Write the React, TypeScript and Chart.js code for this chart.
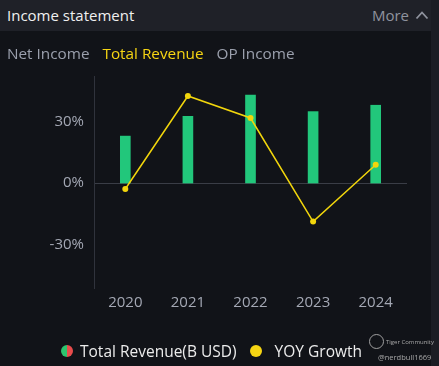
import React, { useEffect, useRef } from "react";
import { Chart, registerables } from "chart.js";

Chart.register(...registerables);

const years = ["2020", "2021", "2022", "2023", "2024"];
const revenue = [11.4, 16.2, 21.35, 17.35, 18.9];
const yoyGrowth = [-2.9, 42.3, 31.6, -18.7, 8.9];
const yTicks = [-30, 0, 30];
const tabs = ["Net Income", "Total Revenue", "OP Income"];

const FONT = "'Open Sans', 'Noto Sans', sans-serif";

export default function App() {
  const ref = useRef<HTMLCanvasElement | null>(null);

  useEffect(() => {
    document.body.style.margin = "0";
    document.body.style.background = "#111318";
    const ctx = ref.current!;
    const chart = new Chart(ctx, {
      data: {
        labels: years,
        datasets: [
          {
            type: "line",
            label: "YOY Growth",
            data: yoyGrowth,
            yAxisID: "y",
            borderColor: "#f2d60c",
            backgroundColor: "#f2d60c",
            borderWidth: 1.5,
            pointRadius: 3,
            pointBorderWidth: 0,
            tension: 0,
            order: 0,
          },
          {
            type: "bar",
            label: "Total Revenue(B USD)",
            data: revenue,
            yAxisID: "y1",
            backgroundColor: "#22c77b",
            barThickness: 10,
            order: 1,
          },
        ],
      } as any,
      options: {
        animation: false,
        responsive: false,
        maintainAspectRatio: false,
        layout: { padding: { left: 0, right: 32, top: 76, bottom: 48 } },
        plugins: { legend: { display: false }, tooltip: { enabled: false } },
        scales: {
          x: {
            grid: { display: false, drawTicks: false },
            border: { display: false },
            ticks: {
              color: "#a4a8b4",
              font: { family: FONT, size: 15 },
              padding: 6,
            },
            afterFit: (s: any) => {
              s.height = 30;
            },
          },
          y: {
            min: -51,
            max: 52,
            afterBuildTicks: (s: any) => {
              s.ticks = yTicks.map((v) => ({ value: v }));
            },
            afterFit: (s: any) => {
              s.width = 94;
            },
            grid: {
              drawTicks: false,
              color: (c: any) => (c.tick && c.tick.value === 0 ? "#3a3d46" : "rgba(0,0,0,0)"),
              lineWidth: 1,
            },
            border: { display: true, color: "#30333c", width: 1 },
            ticks: {
              color: "#a4a8b4",
              font: { family: FONT, size: 15 },
              padding: 10,
              callback: (v: any) => `${v}%`,
            },
          },
          y1: {
            display: false,
            min: -25.5,
            max: 26,
          },
        },
      } as any,
    });
    return () => chart.destroy();
  }, []);

  return (
    <div
      style={{
        position: "relative",
        width: 439,
        height: 366,
        background: "#111318",
        overflow: "hidden",
        fontFamily: FONT,
      }}
    >
      <canvas
        ref={ref}
        width={439}
        height={366}
        style={{ position: "absolute", left: 0, top: 0, width: 439, height: 366 }}
      />
      <div
        style={{
          position: "absolute",
          left: 0,
          top: 0,
          width: 439,
          height: 31,
          background: "#1f2128",
        }}
      />
      <div
        style={{
          position: "absolute",
          left: 7,
          top: 4,
          fontSize: 15,
          color: "#f0f0f0",
          lineHeight: "22px",
        }}
      >
        Income statement
      </div>
      <div
        style={{
          position: "absolute",
          right: 10,
          top: 4,
          fontSize: 15,
          color: "#8f939e",
          lineHeight: "22px",
          display: "flex",
          alignItems: "center",
          gap: 6,
        }}
      >
        <span>More</span>
        <svg width="14" height="10" viewBox="0 0 14 10">
          <polyline points="1.5,8.5 7,2.5 12.5,8.5" fill="none" stroke="#8f939e" strokeWidth="1.8" />
        </svg>
      </div>
      <div
        style={{
          position: "absolute",
          left: 7,
          top: 42,
          fontSize: 15.3,
          lineHeight: "22px",
          display: "flex",
          gap: 13,
        }}
      >
        {tabs.map((t, i) => (
          <span key={t} style={{ color: i === 1 ? "#f6d513" : "#9ba0ad" }}>
            {t}
          </span>
        ))}
      </div>
      <div
        style={{
          position: "absolute",
          left: 431,
          top: 0,
          width: 8,
          height: 366,
          background: "#1b1d24",
        }}
      />
      <div
        style={{
          position: "absolute",
          left: 61,
          top: 339,
          height: 24,
          display: "flex",
          alignItems: "center",
          fontSize: 15.5,
          color: "#ececec",
        }}
      >
        <span
          style={{
            display: "inline-block",
            width: 12,
            height: 12,
            borderRadius: 6,
            background: "linear-gradient(90deg, #2cc46e 50%, #e84c4c 50%)",
            marginRight: 7,
          }}
        />
        <span>Total Revenue(B USD)</span>
        <span
          style={{
            display: "inline-block",
            width: 12,
            height: 12,
            borderRadius: 6,
            background: "#f6d513",
            marginLeft: 13,
            marginRight: 13,
          }}
        />
        <span>YOY Growth</span>
      </div>
      <div
        style={{
          position: "absolute",
          left: 369,
          top: 334,
          width: 15,
          height: 15,
          borderRadius: 8,
          border: "1px solid #a0a0a0",
          boxSizing: "border-box",
        }}
      />
      <div
        style={{
          position: "absolute",
          left: 386,
          top: 338,
          fontSize: 6,
          color: "#a8a8a8",
          whiteSpace: "nowrap",
        }}
      >
        Tiger Community
      </div>
      <div
        style={{
          position: "absolute",
          left: 378,
          top: 352,
          fontSize: 7.5,
          color: "#a8a8a8",
          whiteSpace: "nowrap",
        }}
      >
        @nerdbull1669
      </div>
    </div>
  );
}
